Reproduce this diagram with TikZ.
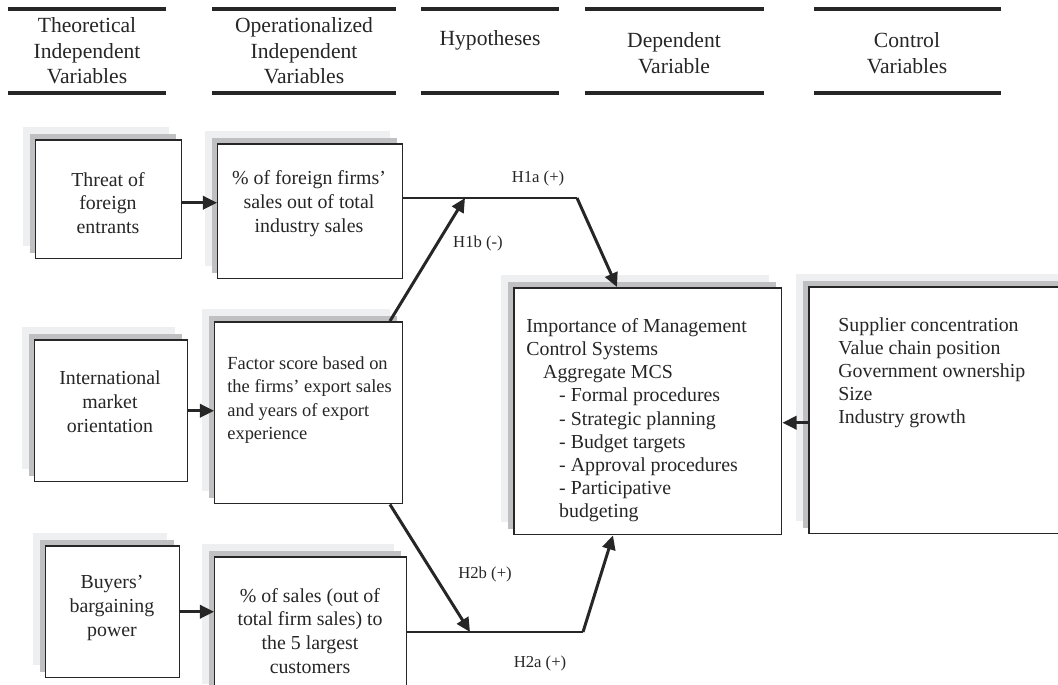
\documentclass[tikz,border=0pt]{standalone}
\usepackage{fontspec}
\setmainfont{Liberation Serif}
\usepackage{tikz}
\usetikzlibrary{arrows.meta, positioning, shadows}

\definecolor{shadelight}{HTML}{EEEFF1}
\definecolor{shadedark}{HTML}{C0C0C2}

\tikzset{
  varbox/.style={draw=black!85, line width=0.85pt, fill=white, inner sep=0pt, anchor=north west,
    general shadow={shadow xshift=-0.26cm, shadow yshift=0.26cm, fill=shadelight, draw=none},
    general shadow={shadow xshift=-0.12cm, shadow yshift=0.12cm, fill=shadedark, draw=none}},
  headrule/.style={line width=2pt, black!85},
  headtext/.style={font=\fontsize{12.3}{14.5}\selectfont, align=center, text=black!85},
  boxtext/.style={font=\fontsize{11.3}{13.6}\selectfont, align=center, text=black!85},
  listtext/.style={font=\fontsize{11.3}{13.2}\selectfont, align=left, anchor=north west, inner sep=0pt, text=black!85},
  hyp/.style={font=\fontsize{9.5}{11}\selectfont, text=black!85},
  thickarrow/.style={line width=1.7pt, black!85, -{Triangle[length=8pt,width=7.5pt]}},
  thinline/.style={line width=0.8pt, black!85}
}

\begin{document}
\begin{tikzpicture}[x=0.02cm, y=-0.02cm]
  \useasboundingbox (0,0) rectangle (1058,684);
  \clip (0,0) rectangle (1058,684);

  % column headings
  \foreach \xa/\xb in {8/166, 212/396, 421/559, 585/764, 814/1001} {
    \draw[headrule] (\xa,9) -- (\xb,9);
    \draw[headrule] (\xa,93) -- (\xb,93);
  }
  \node[headtext] (headtheo) at (87,51) {Theoretical\\Independent\\Variables};
  \node[headtext] (headoper) at (304,51) {Operationalized\\Independent\\Variables};
  \node[headtext] (headhyp) at (490,40) {Hypotheses};
  \node[headtext] (headdep) at (674,53) {Dependent\\Variable};
  \node[headtext] (headctl) at (907,53) {Control\\Variables};

  % boxes
  \node[varbox, minimum width=2.92cm, minimum height=2.38cm] (threat) at (35,139) {};
  \node[varbox, minimum width=3.70cm, minimum height=2.70cm] (foreign) at (217,143) {};
  \node[varbox, minimum width=3.06cm, minimum height=2.84cm] (intl) at (34,339) {};
  \node[varbox, minimum width=3.76cm, minimum height=3.64cm] (factor) at (214,321) {};
  \node[varbox, minimum width=2.68cm, minimum height=2.64cm] (buyers) at (45,545) {};
  \node[varbox, minimum width=3.84cm, minimum height=2.80cm] (custom) at (214,556) {};
  \node[varbox, minimum width=5.36cm, minimum height=4.94cm] (mcs) at (513,287) {};
  \node[varbox, minimum width=5.40cm, minimum height=4.94cm] (ctrl) at (808,286) {};

  % box texts
  \node[boxtext] (threattxt) at (108,203) {Threat of\\foreign\\entrants};
  \node[boxtext] (foreigntxt) at (309,204) {\% of foreign firms'\\sales out of total\\industry sales};
  \node[boxtext] (intltxt) at (110,402) {International\\market\\orientation};
  \node[listtext, font=\fontsize{10.5}{13.4}\selectfont] (factortxt) at (227,356)
    {Factor score based on\\the firms' export sales\\and years of export\\experience};
  \node[boxtext] (buyerstxt) at (112,608) {Buyers'\\bargaining\\power};
  \node[boxtext] (customtxt) at (310,631) {\% of sales (out of\\total firm sales) to\\the 5 largest\\customers};
  \node[listtext] (mcstxt) at (526,318)
    {Importance of Management\\Control Systems\\
     \hspace*{9.6pt}Aggregate MCS\\
     \hspace*{18.7pt}- Formal procedures\\
     \hspace*{18.7pt}- Strategic planning\\
     \hspace*{18.7pt}- Budget targets\\
     \hspace*{18.7pt}- Approval procedures\\
     \hspace*{18.7pt}- Participative\\
     \hspace*{18.7pt}budgeting};
  \node[listtext] (ctrltxt) at (838,317)
    {Supplier concentration\\Value chain position\\Government ownership\\Size\\Industry growth};

  % junction points
  \coordinate (h1top) at (577,198);
  \coordinate (h1join) at (465,198);
  \coordinate (h2bot) at (583,632);
  \coordinate (h2join) at (470,632);
  \coordinate (ctlin) at ([yshift=-0.25cm]ctrl.west);

  % connectors
  \draw[thickarrow] ([yshift=-0.07cm]threat.east) -- ([yshift=-0.07cm]threat.east -| foreign.west);
  \draw[thickarrow] (intl.east) -- (intl.east -| factor.west);
  \draw[thickarrow] (buyers.east) -- (buyers.east -| custom.west);

  \draw[thinline] (foreign.east |- h1top) -- (h1top);
  \draw[thickarrow] (h1top) -- ([xshift=2.08cm]mcs.north west);
  \draw[thickarrow] ([xshift=3.52cm]factor.north west) -- (h1join);
  \draw[thickarrow] ([xshift=3.52cm]factor.south west) -- (h2join);
  \draw[thinline] (custom.east |- h2bot) -- (h2bot);
  \draw[thickarrow] (h2bot) -- ([xshift=2.0cm]mcs.south west);
  \draw[thickarrow] (ctlin) -- (ctlin -| mcs.east);

  % hypothesis labels
  \node[hyp] (h1a) at (538,178) {H1a (+)};
  \node[hyp] (h1b) at (478,243) {H1b (-)};
  \node[hyp] (h2b) at (485,574) {H2b (+)};
  \node[hyp] (h2a) at (540,663) {H2a (+)};
\end{tikzpicture}
\end{document}
